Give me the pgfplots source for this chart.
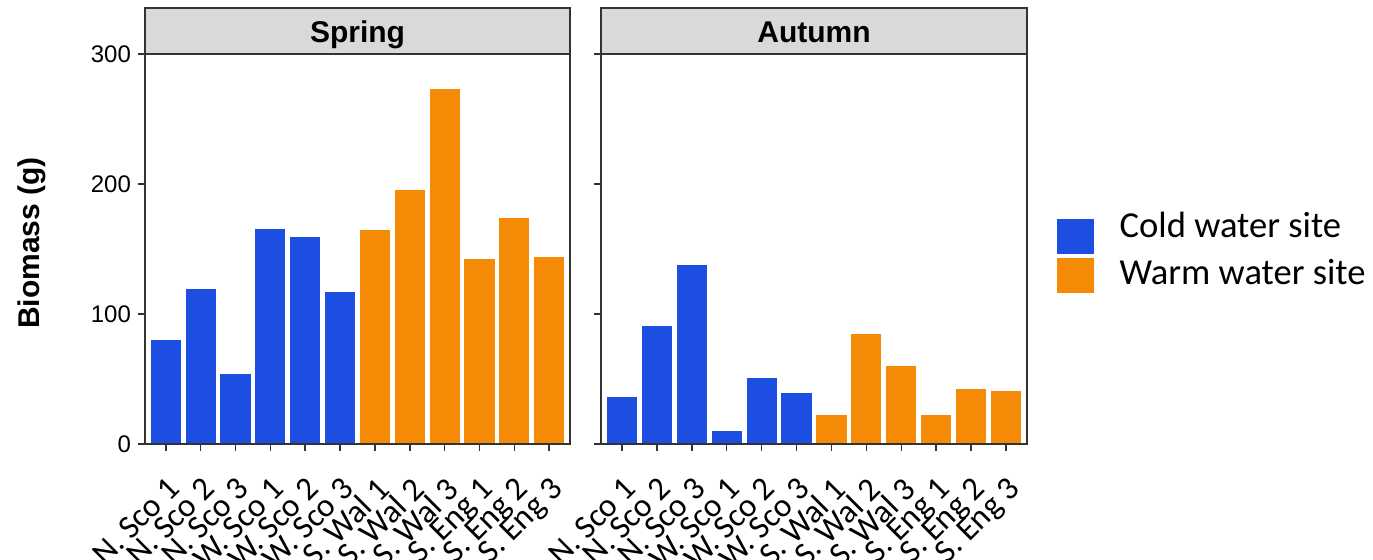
\documentclass[border=0pt]{standalone}
\usepackage{pgfplots}
\pgfplotsset{compat=1.18}
\usepackage{fontspec}
\setmainfont{Liberation Sans}
\newfontfamily\carlito{Carlito}
\definecolor{coldblue}{RGB}{28,79,225}
\definecolor{warmorange}{RGB}{245,138,7}
\definecolor{stripgray}{RGB}{217,217,217}
\definecolor{axisgray}{RGB}{51,51,51}

\pgfplotsset{
 panel/.style={
  scale only axis, height=195pt,
  xmin=-0.6, xmax=11.6, ymin=0, ymax=300,
  ytick={0,100,200,300},
  xtick={0,...,11},
  xticklabels={N. Sco 1,N. Sco 2,N. Sco 3,W. Sco 1,W. Sco 2,W. Sco 3,S. Wal 1,S. Wal 2,S. Wal 3,S. Eng 1,S. Eng 2,S. Eng 3},
  tick align=outside, xtick pos=bottom, ytick pos=left,
  major tick length=3.5pt,
  tick style={draw=axisgray, line width=0.75pt},
  axis line style={draw=axisgray, line width=0.75pt},
  x tick label style={font=\carlito\fontsize{16.5}{16.5}\selectfont, inner sep=0pt, anchor=north east, xshift=0pt, yshift=-12pt, rotate=45},
  y tick label style={font=\fontsize{12}{12}\selectfont},
  /pgf/number format/assume math mode=true,
  axis on top=true,
  clip=false,
 },
 coldbar/.style={ybar, bar width=0.9, bar shift=0pt, fill=coldblue, draw=white, line width=0.6pt,
   legend image code/.code={\fill[coldblue] (0pt,-8.5pt) rectangle (17.5pt,8.5pt); \path (30.5pt,0pt);}},
 warmbar/.style={ybar, bar width=0.9, bar shift=0pt, fill=warmorange, draw=white, line width=0.6pt,
   legend image code/.code={\fill[warmorange] (0pt,-8.5pt) rectangle (17.5pt,8.5pt); \path (30.5pt,0pt);}},
}

\begin{document}
\begin{tikzpicture}
\useasboundingbox (0,0) rectangle (686.5pt,280pt);

\begin{axis}[panel, width=212.5pt, at={(72.5pt,58pt)}, anchor=south west]
\addplot[coldbar] coordinates {(0,80.1) (1,120) (2,54.2) (3,165.7) (4,159.3) (5,117.1)};
\addplot[warmbar] coordinates {(6,164.7) (7,195.5) (8,273.8) (9,142.8) (10,174.2) (11,144.4)};
\draw[fill=stripgray, draw=axisgray, line width=0.75pt] (rel axis cs:0,1) rectangle (rel axis cs:1,1.118);
\node[anchor=base, font=\bfseries\fontsize{15}{15}\selectfont] at (rel axis cs:0.5,1.029) {Spring};
\end{axis}

\begin{axis}[panel, width=213pt, at={(300.5pt,58pt)}, anchor=south west,
  yticklabels={},
  legend style={at={(1.0704,0.595)}, anchor=north west, draw=none, fill=none, inner sep=0pt,
    row sep=1.75pt, nodes={inner sep=0pt, anchor=west, font=\carlito\fontsize{18.3}{18.3}\selectfont}},
  legend cell align=left]
\addplot[coldbar] coordinates {(0,36.6) (1,91.5) (2,138.4) (3,10.3) (4,51) (5,40)};
\addplot[warmbar] coordinates {(6,22.4) (7,85) (8,60.6) (9,22.9) (10,42.8) (11,41.2)};
\draw[fill=stripgray, draw=axisgray, line width=0.75pt] (rel axis cs:0,1) rectangle (rel axis cs:1,1.118);
\node[anchor=base, font=\bfseries\fontsize{15}{15}\selectfont] at (rel axis cs:0.5,1.029) {Autumn};
\addlegendentry[yshift=5pt]{Cold water site}
\addlegendentry[yshift=1pt]{Warm water site}
\end{axis}

\node[rotate=90, font=\bfseries\fontsize{15}{15}\selectfont] at (16pt,158.5pt) {Biomass (g)};
\end{tikzpicture}
\end{document}
